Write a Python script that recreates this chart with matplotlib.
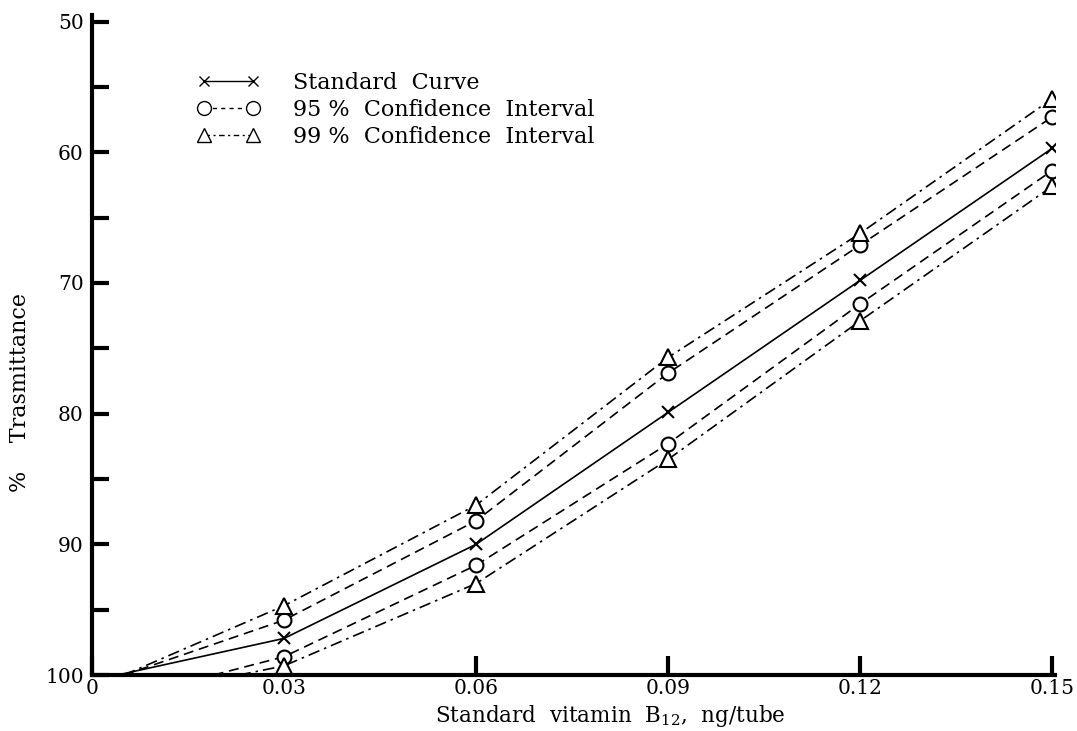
import matplotlib
matplotlib.use('Agg')
from matplotlib import pyplot as plt
from matplotlib.ticker import MultipleLocator

plt.rcParams['font.family'] = 'DejaVu Serif'
plt.rcParams['mathtext.fontset'] = 'dejavuserif'

# Данные
x_pts = [0.03, 0.06, 0.09, 0.12, 0.15]

std_x = [0.004] + x_pts
std_y = [100, 97.2, 90.0, 79.9, 69.8, 59.7]

ci95_up_x = [0.005] + x_pts
ci95_up_y = [100, 95.8, 88.2, 76.9, 67.1, 57.3]
ci95_lo_x = [0.019] + x_pts
ci95_lo_y = [100, 98.6, 91.6, 82.3, 71.6, 61.4]

ci99_up_x = [0.005] + x_pts
ci99_up_y = [100, 94.7, 87.0, 75.7, 66.2, 55.9]
ci99_lo_x = [0.023] + x_pts
ci99_lo_y = [100, 99.3, 93.0, 83.5, 72.9, 62.6]

x_ticks = [0, 0.03, 0.06, 0.09, 0.12, 0.15]
x_tick_labels = ['0', '0.03', '0.06', '0.09', '0.12', '0.15']
y_ticks = [50, 60, 70, 80, 90, 100]

fig = plt.figure(figsize=(10.77, 7.31), dpi=100)
ax = fig.add_axes([0.0854, 0.0766, 0.8946, 0.9029])

dash95 = (0, (6, 3.5))
dash99 = (0, (7, 3, 1.5, 3))
lw = 1.2

ax.plot(std_x, std_y, color='black', lw=lw, ls='-')
ax.plot(std_x[1:], std_y[1:], ls='none', marker='x', ms=9, mew=1.5, color='black')

ax.plot(ci95_up_x, ci95_up_y, color='black', lw=lw, ls=dash95)
ax.plot(ci95_lo_x, ci95_lo_y, color='black', lw=lw, ls=dash95)
ax.plot(ci95_up_x[1:], ci95_up_y[1:], ls='none', marker='o', ms=10, mew=1.5, mfc='white', color='black')
ax.plot(ci95_lo_x[1:], ci95_lo_y[1:], ls='none', marker='o', ms=10, mew=1.5, mfc='white', color='black')

ax.plot(ci99_up_x, ci99_up_y, color='black', lw=lw, ls=dash99)
ax.plot(ci99_lo_x, ci99_lo_y, color='black', lw=lw, ls=dash99)
ax.plot(ci99_up_x[1:], ci99_up_y[1:], ls='none', marker='^', ms=11, mew=1.5, mfc='white', color='black')
ax.plot(ci99_lo_x[1:], ci99_lo_y[1:], ls='none', marker='^', ms=11, mew=1.5, mfc='white', color='black')

# Легенда: пустые линии только для подписи
h1, = ax.plot([], [], color='black', lw=1.0, ls='-', marker='x', ms=7, mew=1.0)
h2, = ax.plot([], [], color='black', lw=1.0, ls=(0, (3, 3)), marker='o', ms=10, mew=1.0, mfc='white')
h3, = ax.plot([], [], color='black', lw=1.0, ls=(0, (4, 2.5, 1.5, 2.5)), marker='^', ms=10, mew=1.0, mfc='white')
ax.legend([h1, h2, h3],
          ['Standard  Curve', '95 %  Confidence  Interval', '99 %  Confidence  Interval'],
          loc='upper left', bbox_to_anchor=(0.109, 0.914), frameon=False,
          borderaxespad=0, borderpad=0,
          numpoints=2, handlelength=2.84, handletextpad=1.5, labelspacing=0.22,
          fontsize=16)

ax.set_xlim(0, 0.1505)
ax.set_ylim(100, 49.5)

ax.set_xticks(x_ticks)
ax.set_xticklabels(x_tick_labels)
ax.set_yticks(y_ticks)
ax.yaxis.set_minor_locator(MultipleLocator(5))
ax.tick_params(axis='both', which='both', direction='in', width=3, labelsize=14.5)
ax.tick_params(axis='y', which='both', length=12, pad=6)
ax.tick_params(axis='x', which='major', length=14, pad=3)

for s in ['top', 'right']:
    ax.spines[s].set_visible(False)
for s in ['left', 'bottom']:
    ax.spines[s].set_linewidth(3)

ax.set_xlabel(r'Standard  vitamin  B$_{12}$,  ng/tube', fontsize=15.5)
ax.xaxis.set_label_coords(0.538, -0.043)
fig.text(20 / 1077, 1 - 393 / 731, '%    Trasmittance', rotation=90,
         ha='center', va='center', fontsize=16)

plt.savefig('out.png', dpi=100)
